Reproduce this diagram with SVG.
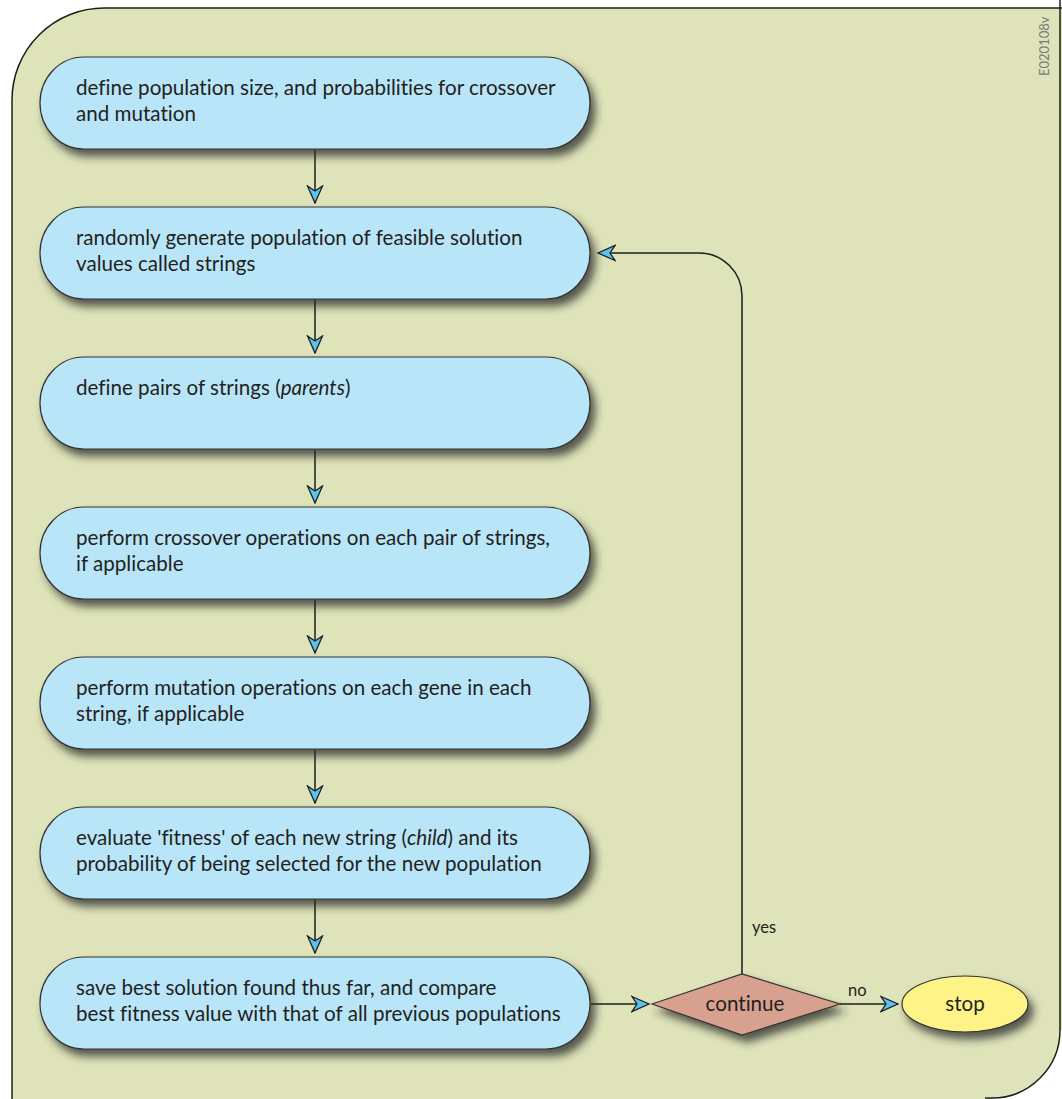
<svg xmlns="http://www.w3.org/2000/svg" width="1062" height="1099" viewBox="0 0 1062 1099">
  <defs>
    <filter id="shadow" x="-10%" y="-20%" width="130%" height="160%">
      <feDropShadow dx="5" dy="7" stdDeviation="4" flood-color="#2b2b2b" flood-opacity="0.75"/>
    </filter>
    <marker id="arrow" viewBox="0 -9 19 18" refX="18" refY="0" markerWidth="19" markerHeight="18" markerUnits="userSpaceOnUse" orient="auto">
      <path d="M1,-7.5 L18,0 L1,7.5 L6,0 Z" fill="#5cc3ee" stroke="#1e1e1e" stroke-width="1.3" stroke-linejoin="miter"/>
    </marker>
    <style>
      text { font-variant-ligatures: none; }
      .step { fill: #b9e5f9; stroke: #333; stroke-width: 1.2; filter: url(#shadow); }
      .decision { fill: #d8a18f; stroke: #333; stroke-width: 1.2; filter: url(#shadow); }
      .terminal { fill: #fdf387; stroke: #333; stroke-width: 1.2; filter: url(#shadow); }
      .label { font-family: Lato, "Open Sans", sans-serif; font-size: 20.6px; fill: #231f20; }
      .small { font-family: Lato, "Open Sans", sans-serif; font-size: 16.5px; fill: #231f20; }
      .code { font-family: Lato, "Open Sans", sans-serif; font-size: 13px; fill: #7a7a7a; }
      .link { fill: none; stroke: #1e1e1e; stroke-width: 1.5; marker-end: url(#arrow); }
    </style>
  </defs>

  <!-- background panel with rounded corners -->
  <path d="M12,1110 L12,100 A92,92 0 0 1 104,8 L1070,8 L1070,1030 L1060,1030 A68,68 0 0 1 992,1098 L992,1110 Z" fill="#dee3b9" stroke="none"/>
  <path d="M12,1110 L12,100 A92,92 0 0 1 104,8 L1070,8" fill="none" stroke="#1e1e1e" stroke-width="1.5"/>
  <path d="M1060,0 L1060,1030 A68,68 0 0 1 992,1098 L985,1098" fill="none" stroke="#1e1e1e" stroke-width="1.5"/>

  <text class="code" transform="translate(1049,76) rotate(-90)">E020108v</text>

  <!-- connectors -->
  <g id="connectors">
    <path class="link" d="M315,150 L315,203"/>
    <path class="link" d="M315,300 L315,353"/>
    <path class="link" d="M315,450 L315,503"/>
    <path class="link" d="M315,600 L315,653"/>
    <path class="link" d="M315,750 L315,803"/>
    <path class="link" d="M315,900 L315,953"/>
    <path class="link" d="M591,1004 L649,1004"/>
    <path class="link" d="M840,1004 L898,1004"/>
    <path class="link" d="M742,974 L742,296 A43,43 0 0 0 699,253 L598,253"/>
    <text class="small" x="752" y="933">yes</text>
    <text class="small" x="848" y="996">no</text>
  </g>

  <g id="node-define-params">
    <rect class="step" x="40" y="57" width="550" height="92" rx="44" ry="46"/>
    <text class="label" x="76" y="95">define population size, and probabilities for crossover</text>
    <text class="label" x="76" y="121">and mutation</text>
  </g>

  <g id="node-generate">
    <rect class="step" x="40" y="207" width="550" height="92" rx="44" ry="46"/>
    <text class="label" x="76" y="245">randomly generate population of feasible solution</text>
    <text class="label" x="76" y="271">values called strings</text>
  </g>

  <g id="node-pairs">
    <rect class="step" x="40" y="357" width="550" height="92" rx="44" ry="46"/>
    <text class="label" x="76" y="395">define pairs of strings (<tspan font-style="italic">parents</tspan>)</text>
  </g>

  <g id="node-crossover">
    <rect class="step" x="40" y="507" width="550" height="92" rx="44" ry="46"/>
    <text class="label" x="76" y="545">perform crossover operations on each pair of strings,</text>
    <text class="label" x="76" y="571">if applicable</text>
  </g>

  <g id="node-mutation">
    <rect class="step" x="40" y="657" width="550" height="92" rx="44" ry="46"/>
    <text class="label" x="76" y="695">perform mutation operations on each gene in each</text>
    <text class="label" x="76" y="721">string, if applicable</text>
  </g>

  <g id="node-fitness">
    <rect class="step" x="40" y="807" width="550" height="92" rx="44" ry="46"/>
    <text class="label" x="76" y="845">evaluate 'fitness' of each new string (<tspan font-style="italic">child</tspan>) and its</text>
    <text class="label" x="76" y="871">probability of being selected for the new population</text>
  </g>

  <g id="node-save">
    <rect class="step" x="40" y="957" width="550" height="92" rx="44" ry="46"/>
    <text class="label" x="76" y="995">save best solution found thus far, and compare</text>
    <text class="label" x="76" y="1021">best fitness value with that of all previous populations</text>
  </g>

  <g id="node-continue">
    <polygon class="decision" points="652,1004 742,974 840,1004 742,1035"/>
    <text class="label" x="745" y="1011" text-anchor="middle">continue</text>
  </g>

  <g id="node-stop">
    <ellipse class="terminal" cx="965" cy="1004" rx="63" ry="28"/>
    <text class="label" x="965" y="1011" text-anchor="middle">stop</text>
  </g>
</svg>
